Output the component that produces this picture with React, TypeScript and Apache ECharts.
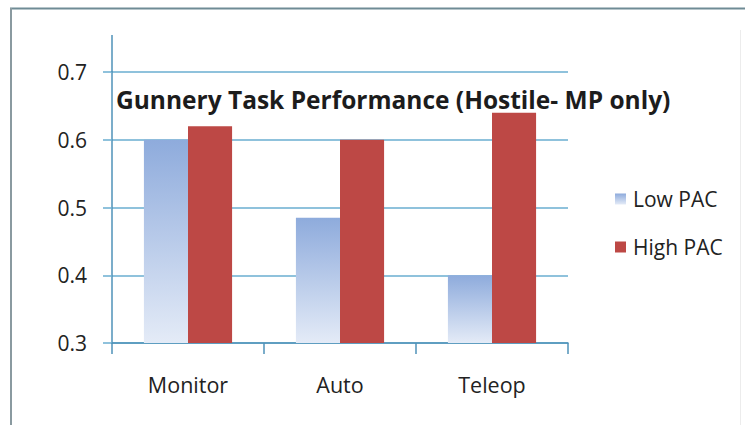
import React, { useEffect, useRef } from "react";
import * as echarts from "echarts";

const categories = ["Monitor", "Auto", "Teleop"];
const lowPAC = [0.6, 0.485, 0.4];
const highPAC = [0.62, 0.6, 0.64];
const seriesNames = ["Low PAC", "High PAC"];
const titleText = "Gunnery Task Performance (Hostile- MP only)";
const yMin = 0.3;
const yMax = 0.7;
const yStep = 0.1;

const FONT = "'Open Sans', Lato, sans-serif";
const GRID = { left: 112, right: 177, top: 72, bottom: 82 };

export default function App() {
  const ref = useRef<HTMLDivElement>(null);
  useEffect(() => {
    if (!ref.current) return;
    const chart = echarts.init(ref.current, null, { renderer: "svg" });
    chart.setOption({
      animation: false,
      backgroundColor: "#ffffff",
      textStyle: { fontFamily: FONT },
      title: {
        text: titleText,
        left: 111,
        top: 82,
        textStyle: { fontFamily: FONT, fontSize: 24.5, fontWeight: "bold", color: "#1c1c1c" },
      },
      legend: {
        orient: "vertical",
        left: 610,
        top: 182,
        itemWidth: 11,
        itemHeight: 11,
        itemGap: 24,
        icon: "rect",
        data: seriesNames,
        textStyle: { fontFamily: FONT, fontSize: 21, color: "#222", lineHeight: 24, padding: [0, 0, 0, 2] },
      },
      grid: { ...GRID, containLabel: false },
      xAxis: {
        type: "category",
        data: categories,
        axisLine: { show: true, lineStyle: { color: "#4f92b8", width: 1.5 } },
        axisTick: { show: true, alignWithLabel: false, length: 11, lineStyle: { color: "#4f92b8", width: 1.5 } },
        axisLabel: { fontFamily: FONT, fontSize: 21.5, color: "#222", margin: 30 },
        splitLine: { show: false },
      },
      yAxis: {
        type: "value",
        min: yMin,
        max: yMax,
        interval: yStep,
        axisLine: { show: true, lineStyle: { color: "#4f92b8", width: 1.5 } },
        axisTick: { show: true, length: 9, lineStyle: { color: "#6aaed0", width: 1.5 } },
        axisLabel: {
          fontFamily: FONT,
          fontSize: 21,
          color: "#222",
          margin: 25,
          formatter: (v: number) => v.toFixed(1),
        },
        splitLine: { show: true, lineStyle: { color: "#6aaed0", width: 1.5 } },
      },
      series: [
        {
          name: seriesNames[0],
          type: "bar",
          data: lowPAC,
          barGap: "0%",
          barCategoryGap: "42%",
          itemStyle: {
            color: new echarts.graphic.LinearGradient(0, 0, 0, 1, [
              { offset: 0, color: "#8eabdc" },
              { offset: 1, color: "#e4ebf7" },
            ]),
          },
        },
        {
          name: seriesNames[1],
          type: "bar",
          data: highPAC,
          barGap: "0%",
          barCategoryGap: "42%",
          itemStyle: { color: "#bd4845" },
        },
      ],
      graphic: [
        {
          type: "line",
          shape: { x1: GRID.left, y1: 35, x2: GRID.left, y2: GRID.top },
          style: { stroke: "#4f92b8", lineWidth: 1.5 },
          z: 10,
        },
        {
          type: "line",
          shape: { x1: 10, y1: 8.5, x2: 745, y2: 8.5 },
          style: { stroke: "#6f8b95", lineWidth: 2 },
        },
        {
          type: "line",
          shape: { x1: 11, y1: 8, x2: 11, y2: 425 },
          style: { stroke: "#8a9aa0", lineWidth: 2 },
        },
        {
          type: "line",
          shape: { x1: 740.5, y1: 30, x2: 740.5, y2: 425 },
          style: { stroke: "#ececec", lineWidth: 1 },
        },
      ],
    });
    return () => chart.dispose();
  }, []);
  return (
    <div
      ref={ref}
      style={{ position: "absolute", left: 0, top: 0, width: 745, height: 425, background: "#fff" }}
    />
  );
}
